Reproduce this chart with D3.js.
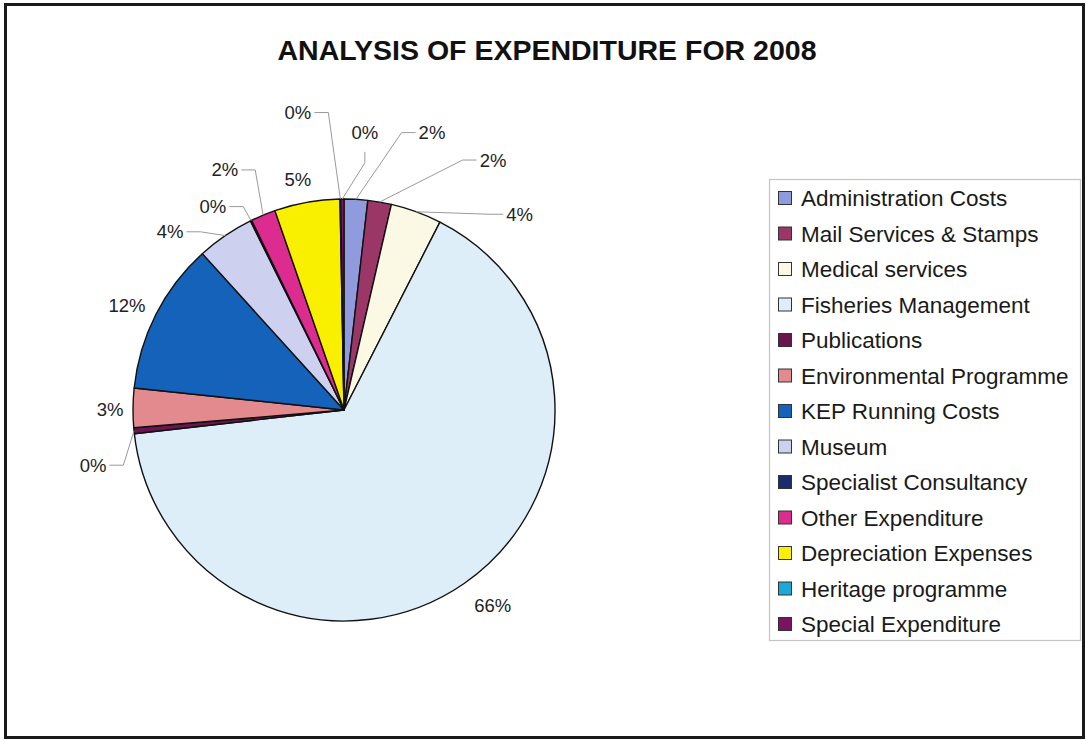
<!DOCTYPE html>
<html>
<head>
<meta charset="utf-8">
<script src="https://cdn.jsdelivr.net/npm/d3@7"></script>
<style>
  body { margin: 0; background: #fff; }
</style>
</head>
<body>
<script>
const title = "ANALYSIS OF EXPENDITURE FOR 2008"

const categories = ["Administration Costs", "Mail Services & Stamps", "Medical services",
    "Fisheries Management", "Publications", "Environmental Programme", "KEP Running Costs",
    "Museum", "Specialist Consultancy", "Other Expenditure", "Depreciation Expenses",
    "Heritage programme", "Special Expenditure"]

// share of expenditure, percent
const values = [1.8, 1.8, 3.9, 65.6, 0.45, 3.0, 11.6, 4.4, 0.1, 1.9, 5.0, 0.05, 0.25]

const colors = ["#8f9bdc", "#9a3766", "#fbf9e4", "#deeef9", "#6a1550", "#e38a8f", "#1462b9",
    "#cdd0ee", "#1b2b6c", "#dc2c8f", "#f9f000", "#1aa8d6", "#7c1262"]

// where each percent label sits: angle (deg, clockwise from top), distance from centre, leader
const labelAngle = [17.6, 30.8, 41.9, 142.8, 257.6, 270.2, 295.8, 315.7, 327.2, 333.6, 348.7, 351.2, 4.3]
const labelDist  = [291, 291, 263, 246, 257, 234, 241, 249, 242, 268, 235, 301, 278]
const leader     = ["h", "h", "h", "", "h", "", "", "h", "h", "h", "", "h", "v"]

const W = 1086, H = 740
const cx = 344, cy = 410, R = 211
const font = "'Liberation Sans', Arial, Helvetica, sans-serif"

let svg = d3.select("body")
    .append("svg")
    .attr("width", W)
    .attr("height", H)

// outer frame
svg.append("rect")
    .attr("x", 5.5).attr("y", 4.5)
    .attr("width", W - 8).attr("height", H - 7)
    .attr("fill", "none")
    .attr("stroke", "#1a1a1a")
    .attr("stroke-width", 3)

svg.append("text")
    .attr("x", 547).attr("y", 50)
    .attr("dy", "0.35em")
    .attr("text-anchor", "middle")
    .attr("font-family", font)
    .attr("font-weight", "bold")
    .attr("font-size", 28.5)
    .attr("fill", "#111")
    .text(title)

let pie = d3.pie().sort(null).value(d => d)
let arcs = pie(values)
let arc = d3.arc().innerRadius(0).outerRadius(R)
let total = d3.sum(values)

let g = svg.append("g").attr("transform", `translate(${cx},${cy})`)

g.selectAll("path.slice")
    .data(arcs)
    .join("path")
    .attr("class", "slice")
    .attr("d", arc)
    .attr("fill", (d, i) => colors[i])
    .attr("stroke", "#111")
    .attr("stroke-width", 1.4)
    .attr("stroke-linejoin", "round")

function polar(deg, r) {
    let a = deg * Math.PI / 180
    return [r * Math.sin(a), -r * Math.cos(a)]
}

let labels = g.selectAll("text.pct")
    .data(arcs)
    .join("text")
    .attr("class", "pct")
    .attr("x", (d, i) => polar(labelAngle[i], labelDist[i])[0])
    .attr("y", (d, i) => polar(labelAngle[i], labelDist[i])[1])
    .attr("dy", "0.35em")
    .attr("text-anchor", "middle")
    .attr("font-family", font)
    .attr("font-size", 18.5)
    .attr("fill", "#222")
    .text(d => Math.round(d.value / total * 100) + "%")

// leader lines from label to the slice edge
labels.each(function(d, i) {
    if (!leader[i]) return
    let [lx, ly] = polar(labelAngle[i], labelDist[i])
    let mid = (d.startAngle + d.endAngle) / 2
    let px = R * Math.sin(mid), py = -R * Math.cos(mid)
    let w = this.getComputedTextLength()
    let pts
    if (leader[i] == "h") {
        let s = px < lx ? -1 : 1
        let x0 = lx + s * (w / 2 + 3)
        pts = [[x0, ly], [x0 + s * 14, ly], [px, py]]
    } else {
        pts = [[lx, ly + 19], [lx, ly + 30], [px, py]]
    }
    g.append("polyline")
        .attr("points", pts.map(p => p.join(",")).join(" "))
        .attr("fill", "none")
        .attr("stroke", "#9a9a9a")
        .attr("stroke-width", 1)
})

// legend
let lg = svg.append("g")
lg.append("rect")
    .attr("x", 769.5).attr("y", 179.5)
    .attr("width", 311).attr("height", 461)
    .attr("fill", "#fff")
    .attr("stroke", "#c4c4c4")
    .attr("stroke-width", 1.2)

let ly = d3.scalePoint().domain(categories).range([198, 624])

let item = lg.selectAll("g.item")
    .data(categories)
    .join("g")
    .attr("class", "item")
    .attr("transform", d => `translate(0,${ly(d)})`)

item.append("rect")
    .attr("x", 778.5).attr("y", -6.5)
    .attr("width", 13).attr("height", 13)
    .attr("fill", (d, i) => colors[i])
    .attr("stroke", "#333")
    .attr("stroke-width", 1)

item.append("text")
    .attr("x", 801)
    .attr("dy", "0.36em")
    .attr("font-family", font)
    .attr("font-size", 22.5)
    .attr("fill", "#1a1a1a")
    .text(d => d)
</script>
</body>
</html>
